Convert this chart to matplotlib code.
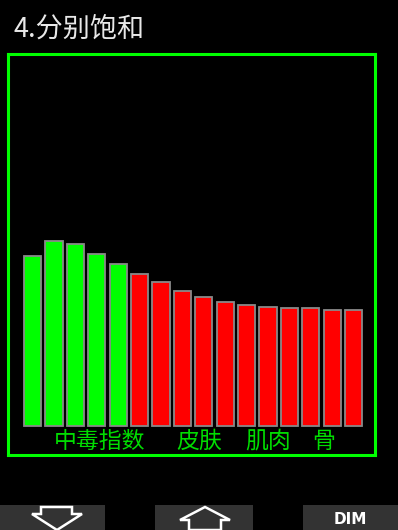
import matplotlib
matplotlib.use("Agg")
import matplotlib.pyplot as plt
from matplotlib.patches import Rectangle, Polygon

plt.rcParams['font.family'] = ['Noto Sans CJK SC', 'DejaVu Sans']

# ---- data ----
title = "4.分别饱和"
tissues = list(range(16))
saturation = [170, 185, 182, 172, 162, 152, 144, 135, 129, 124, 121, 119, 118, 118, 116, 116]
colors = ['#00ff00'] * 5 + ['#ff0000'] * 11
group_labels = ["中毒指数", "皮肤", "肌肉", "骨"]
group_pos = [3.15, 7.8, 11.0, 13.6]
button_text = "DIM"

W, H = 398, 530
fig = plt.figure(figsize=(W / 100, H / 100), dpi=100, facecolor='black')

def px(x0, y0, w, h):
    return [x0 / W, 1 - (y0 + h) / H, w / W, h / H]

ax = fig.add_axes(px(8, 54, 367, 401))
ax.set_facecolor('black')
ax.bar(tissues, saturation, width=0.8, color=colors, edgecolor='#8a8a8a', linewidth=1.3)
ax.set_xlim(-1.15, 16.0)
ax.set_ylim(-29, 372)
ax.set_xticks([])
ax.set_yticks([])
for s in ax.spines.values():
    s.set_color('#00ff00')
    s.set_linewidth(2.2)
for lab, xp in zip(group_labels, group_pos):
    ax.text(xp, -15, lab, color='#00dd00', fontsize=16.5, ha='center', va='center',
            fontweight='light')

# title
fig.text(14 / W, 1 - 29 / H, title, color='#e8e8e8', fontsize=19.5, ha='left', va='center',
         fontweight='light')

# bottom buttons
overlay = fig.add_axes([0, 0, 1, 1])
overlay.set_xlim(0, W)
overlay.set_ylim(H, 0)
overlay.axis('off')
overlay.patch.set_alpha(0)
for x0, x1 in [(0, 105), (155, 253), (303, 398)]:
    overlay.add_patch(Rectangle((x0, 505), x1 - x0, 25, facecolor='#333333', edgecolor='none'))
down = [(41, 507), (72, 507), (72, 514), (82, 514), (57, 530), (32, 514), (41, 514)]
overlay.add_patch(Polygon(down, closed=True, facecolor='none', edgecolor='white', linewidth=1.8))
up = [(205, 507), (230, 520), (221, 520), (221, 530), (189, 530), (189, 520), (180, 520)]
overlay.add_patch(Polygon(up, closed=True, facecolor='none', edgecolor='white', linewidth=1.8))
overlay.text(350, 519, button_text, color='white', fontsize=11, fontweight='bold',
             ha='center', va='center', family='Liberation Sans Narrow')

fig.savefig('out.png', dpi=100, facecolor='black')
